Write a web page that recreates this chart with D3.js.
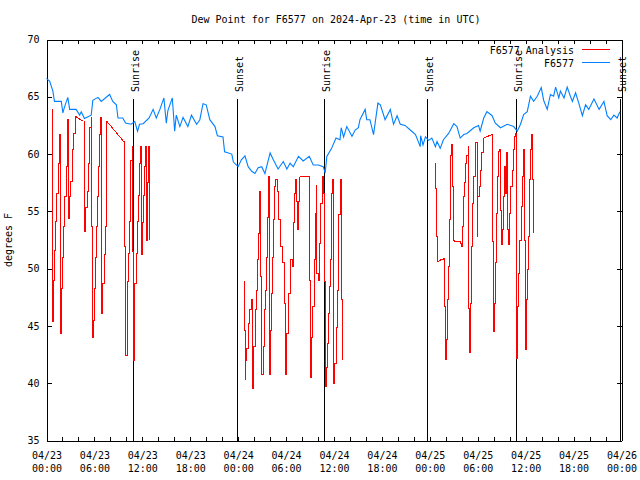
<!DOCTYPE html>
<html>
<head>
<meta charset="utf-8">
<script src="https://cdn.jsdelivr.net/npm/d3@7"></script>
<style>
  body { margin: 0; background: #fff; }
  text { font-family: "DejaVu Sans Mono", "Liberation Mono", monospace; font-size: 10px; fill: #000; }
</style>
</head>
<body>
<svg id="chart" width="640" height="480"></svg>
<script>
// ---------------- data (hours since 2024-04-23 00:00 UTC, degrees F) ----------------
const obsHours = [0.0,0.4,0.8,1.0,1.85,2.05,2.25,2.67,2.9,3.7,4.15,4.35,4.75,5.6,5.8,6.45,6.85,7.9,8.3,8.75,8.95,9.55,9.9,10.6,11.05,11.4,11.65,12.1,12.85,13.35,13.75,14.2,14.7,15.0,15.2,15.75,16.05,16.25,16.7,17.1,17.7,18.15,18.8,19.2,19.6,20.0,20.45,21.1,21.4,22.1,22.3,23.2,23.4,24.0,24.4,24.85,25.25,25.7,26.1,26.5,26.95,27.35,27.6,28.0,28.4,29.0,29.65,30.1,30.5,30.9,31.55,32.15,32.9,33.4,34.05,34.65,34.9,35.1,35.7,36.25,36.75,36.9,37.2,37.6,38.25,38.65,39.05,39.25,39.9,40.1,40.5,40.95,41.5,41.8,42.4,43.05,43.45,43.9,44.3,44.9,45.55,46.2,46.8,46.85,47.15,47.45,47.85,48.25,48.7,48.9,49.3,49.7,50.35,51.0,51.4,51.8,52.25,52.65,53.5,54.1,54.3,54.75,55.15,55.8,56.2,56.85,57.7,58.5,58.95,59.35,59.75,60.2,60.6,61.0,61.45,61.95,62.25,62.7,63.1,63.5,63.75,64.15,64.35,64.8,65.2,65.6,65.85,66.25,66.65,67.1,67.5,67.9,68.55,69.2,69.8,70.2,70.65,71.05,71.45,71.8];
const obsDew = [66.6,66.35,65.5,64.6,64.6,63.6,64.1,64.95,63.9,63.9,63.4,63.7,63.1,63.4,64.7,64.95,64.6,65.2,64.6,64.3,63.15,63.15,62.7,62.6,62.85,62.0,62.6,62.65,63.15,63.9,63.15,63.9,64.9,62.7,63.8,64.9,62.0,63.4,62.4,63.2,62.4,63.4,62.6,63.0,64.4,64.3,63.0,62.4,61.6,61.5,60.2,60.0,59.3,58.9,59.5,59.85,58.9,58.5,58.3,58.8,58.9,58.3,59.0,60.1,59.5,58.7,59.35,58.7,59.2,58.9,59.8,59.4,59.8,59.05,59.05,58.9,58.35,59.8,60.5,61.4,61.25,62.3,61.5,62.4,61.55,62.1,62.3,63.0,63.9,63.0,63.0,61.7,64.45,64.3,63.0,63.9,62.6,63.35,62.6,62.5,62.1,61.7,60.65,61.6,60.8,61.5,61.2,61.4,60.65,61.1,60.5,61.25,61.8,62.65,62.4,61.4,61.7,61.8,62.3,62.5,62.0,63.15,63.7,63.35,62.7,62.3,62.6,62.4,62.0,62.6,63.45,63.7,65.05,64.6,65.05,65.8,64.7,63.9,65.2,65.05,65.85,64.9,65.5,64.9,65.85,65.05,64.6,65.35,64.45,63.35,64.3,63.9,64.8,63.9,64.6,63.35,63.0,63.4,63.15,63.7];

const analysisHours1 = [0.67,0.71,0.84,0.88,1.05,1.09,1.30,1.46,1.59,1.67,1.76,1.88,2.01,2.17,2.30,2.47,2.59,2.68,2.80,2.93,3.05,3.22,3.39,3.60,4.64,4.77,4.93,5.10,5.23,5.44,5.60,5.69,5.81,5.94,5.98,6.11,6.23,6.36,6.48,6.61,6.73,6.86,6.94,7.07,7.24,7.36,7.49,7.53,7.57,9.66,9.74,9.87,10.08,10.16,10.33,10.41,10.58,10.71,10.75,10.87,11.00,11.08,11.25,11.42,11.54,11.67,11.75,11.84,11.96,12.09,12.25,12.38,12.55,12.67,12.76,12.84];
const analysisDew1 = [63.9,45.4,46.7,49.0,51.6,54.1,56.6,59.2,61.7,61.7,44.3,48.3,51.0,53.7,56.3,58.9,61.5,63.0,54.4,56.3,57.6,60.4,61.8,63.3,62.85,53.2,55.3,56.7,59.2,62.3,63.15,53.7,44.0,45.5,48.3,51.0,53.7,56.3,58.9,61.7,63.15,51.3,46.1,48.7,51.2,53.7,56.3,58.9,62.85,61.1,51.9,42.4,43.8,48.9,51.3,54.1,59.4,60.7,51.5,42.0,46.1,48.7,51.3,54.1,56.4,59.2,60.7,51.2,54.0,56.4,58.9,60.7,52.5,57.5,60.7,52.5];

const analysisHours2 = [24.76,24.84,24.88,24.96,25.09,25.26,25.47,25.68,25.80,25.93,26.14,26.30,26.43,26.55,26.64,26.72,26.85,26.97,27.14,27.26,27.39,27.56,27.68,27.77,27.89,28.02,28.14,28.31,28.44,28.60,28.73,28.90,29.06,29.27,29.57,29.77,29.98,30.11,30.32,30.61,30.82,30.94,31.11,31.24,31.36,31.49,31.61,31.74,32.83,32.91,33.00,33.12,33.33,33.54,33.66,33.75,33.87,34.00,34.16,34.37,34.50,34.67,34.79,34.88,35.00,35.13,35.25,35.42,35.59,35.71,35.80,35.92,36.09,36.26,36.42,36.59,36.76,36.88,37.01];
const analysisDew2 = [48.9,44.6,40.3,42.0,43.0,45.2,46.4,47.3,39.5,43.2,46.4,48.1,50.8,53.1,55.4,56.7,49.3,40.8,43.2,46.4,48.1,51.0,54.5,58.0,40.8,44.6,47.8,51.0,54.3,57.2,57.8,56.7,54.3,51.9,50.5,47.0,40.8,44.3,47.8,50.8,50.2,54.0,56.6,57.8,55.9,53.4,55.9,58.0,58.0,49.0,40.5,44.0,46.7,50.8,54.8,57.3,49.6,49.0,52.2,55.7,58.0,56.6,48.9,39.7,41.4,43.5,46.1,48.4,50.8,56.6,57.8,40.0,41.7,44.9,48.1,54.7,57.8,47.3,42.0];

const analysisHours3 = [48.72,48.76,48.85,48.93,49.47,49.77,49.85,49.93,50.06,50.18,50.31,50.43,50.56,50.64,50.73,50.85,50.94,51.15,51.56,51.86,51.98,52.07,52.19,52.32,52.48,52.65,52.82,52.90,52.99,53.11,53.24,53.36,53.53,53.66,53.78,53.91,53.99,54.16,54.32,54.49,54.66,54.78,55.75,55.83,55.91,56.04,56.16,56.33,56.46,56.58,56.71,56.79,56.92,57.09,57.21,57.34,57.50,57.63,57.75,57.88,58.00,58.13,58.30,58.46,58.63,58.76,58.88,59.01,59.13,59.26,59.43,59.59,59.72,59.84,59.93,60.05,60.18,60.35,60.47,60.60,60.76,60.89,60.97];
const analysisDew3 = [59.2,57.0,52.8,50.6,50.8,50.9,46.7,42.1,43.8,47.3,50.2,54.3,57.8,59.9,60.8,57.2,52.5,52.4,52.4,52.2,51.9,53.7,56.3,57.5,59.2,59.9,60.7,46.5,42.7,47.0,51.9,55.7,58.0,59.5,61.0,52.8,56.3,57.2,58.6,60.1,61.3,61.4,61.7,52.4,44.5,47.0,50.5,54.8,58.0,60.2,60.4,55.1,52.1,53.4,56.3,58.9,56.6,60.1,53.4,52.1,54.8,57.2,58.6,60.4,61.5,61.8,42.2,46.7,49.6,52.5,55.4,58.0,60.4,52.5,42.9,47.3,49.9,52.8,57.8,60.4,61.7,57.8,53.1];

const sunriseHours = [10.82, 34.8, 58.83];
const sunsetHours = [23.8, 47.7, 71.8];
const yTicks = [35, 40, 45, 50, 55, 60, 65, 70];
const seriesNames = ["F6577 Analysis", "F6577"];
const seriesColors = ["#ff0000", "#0080ff"];
const titleText = "Dew Point for F6577 on 2024-Apr-23 (time in UTC)";
const yLabel = "degrees F";

// ---------------- drawing ----------------
const svg = d3.select("#chart");
const start = Date.UTC(2024, 3, 23, 0, 0);
const toDate = h => new Date(start + h * 3600000);

const x = d3.scaleUtc().domain([toDate(0), toDate(72)]).range([46.5, 621.5]);
const y = d3.scaleLinear().domain([35, 70]).range([440.5, 39.5]);

const tickDates = d3.range(0, 73, 2).map(toDate);
const fmtDay = d3.utcFormat("%m/%d");
const fmtTime = d3.utcFormat("%H:%M");

// title
svg.append("text").attr("x", 336).attr("y", 23).attr("text-anchor", "middle").text(titleText);

// y label
svg.append("text").attr("transform", "translate(12,240) rotate(-90)")
  .attr("text-anchor", "middle").text(yLabel);

// sunrise/sunset lines
const sunEvents = sunriseHours.map(h => ({h, label: "Sunrise"}))
  .concat(sunsetHours.map(h => ({h, label: "Sunset"})));
const sunG = svg.append("g");
sunEvents.forEach(ev => {
  const px = Math.round(x(toDate(ev.h))) + 0.5;
  sunG.append("line").attr("x1", px).attr("x2", px).attr("y1", 99).attr("y2", y(35))
    .attr("stroke", "#000").attr("stroke-width", 1).attr("shape-rendering", "crispEdges");
  sunG.append("text").attr("transform", `translate(${px + 5.5},92) rotate(-90)`)
    .attr("text-anchor", "start").text(ev.label);
});

// axes
const axG = svg.append("g").attr("shape-rendering", "crispEdges");
const bottom = axG.append("g").attr("transform", `translate(0,${y(35)})`)
  .call(d3.axisBottom(x).tickValues(tickDates).tickSize(-4).tickSizeOuter(0)
    .tickFormat(d => d.getUTCHours() % 6 === 0 ? "x" : ""));
bottom.selectAll(".tick text").each(function(d) {
  const t = d3.select(this);
  const show = d.getUTCHours() % 6 === 0;
  t.text(null).attr("y", null).attr("dy", null);
  if (!show) return;
  t.append("tspan").attr("x", 0).attr("y", 18).text(fmtDay(d));
  t.append("tspan").attr("x", 0).attr("y", 31).text(fmtTime(d));
});
axG.append("g").attr("transform", `translate(0,${y(70)})`)
  .call(d3.axisTop(x).tickValues(tickDates).tickSize(-4).tickSizeOuter(0).tickFormat(""));
axG.append("g").attr("transform", `translate(${x.range()[0]},0)`)
  .call(d3.axisLeft(y).tickValues(yTicks).tickSize(-5).tickSizeOuter(0).tickPadding(7));
axG.append("g").attr("transform", `translate(${x.range()[1]},0)`)
  .call(d3.axisRight(y).tickValues(yTicks).tickSize(-5).tickSizeOuter(0).tickFormat(""));
axG.selectAll(".domain, .tick line").attr("stroke", "#000").attr("stroke-width", 1);
axG.selectAll("text").attr("font-family", null).attr("font-size", null).attr("fill", "#000");

// series
const zipPts = (a, b) => a.map((h, i) => [h, b[i]]);
const stepLine = d3.line().curve(d3.curveStepAfter).x(d => x(toDate(d[0]))).y(d => y(d[1]));
const linLine = d3.line().x(d => x(toDate(d[0]))).y(d => y(d[1]));
const GAP = 0.5; // hours: longer spans between reports are joined by a straight segment

const redG = svg.append("g").attr("fill", "none").attr("stroke", seriesColors[0])
  .attr("stroke-width", 1).attr("shape-rendering", "crispEdges");
[[analysisHours1, analysisDew1], [analysisHours2, analysisDew2], [analysisHours3, analysisDew3]]
  .forEach(([h, v]) => {
    const pts = zipPts(h, v);
    let run = [pts[0]];
    const runs = [], joins = [];
    for (let i = 1; i < pts.length; i++) {
      if (pts[i][0] - pts[i - 1][0] > GAP) {
        runs.push(run); joins.push([pts[i - 1], pts[i]]); run = [pts[i]];
      } else run.push(pts[i]);
    }
    runs.push(run);
    runs.forEach(r => redG.append("path").datum(r).attr("d", stepLine));
    joins.forEach(j => redG.append("path").datum(j).attr("d", linLine));
  });

svg.append("path").datum(zipPts(obsHours, obsDew)).attr("d", linLine)
  .attr("fill", "none").attr("stroke", seriesColors[1]).attr("stroke-width", 1.1);

// legend
const leg = svg.append("g");
seriesNames.forEach((name, i) => {
  const by = 53.5 + i * 13;
  leg.append("text").attr("x", 574).attr("y", by).attr("text-anchor", "end").text(name);
  leg.append("line").attr("x1", 582).attr("x2", 610).attr("y1", by - 4).attr("y2", by - 4)
    .attr("stroke", seriesColors[i]).attr("stroke-width", 1).attr("shape-rendering", "crispEdges");
});
</script>
</body>
</html>
